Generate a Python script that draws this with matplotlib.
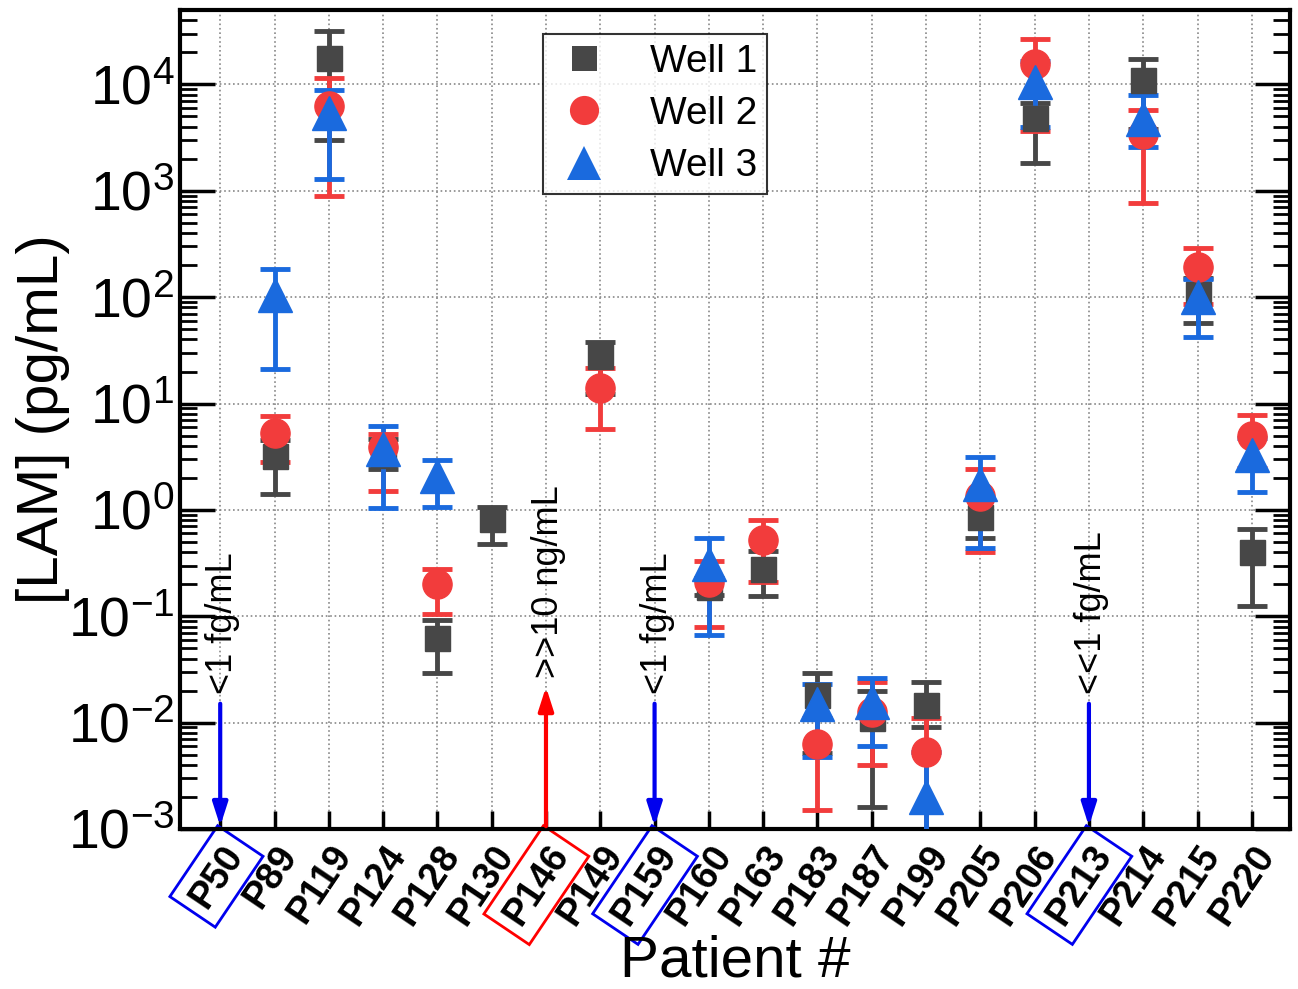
import numpy as np
import matplotlib
matplotlib.use("Agg")
import matplotlib.pyplot as plt
from matplotlib.lines import Line2D

plt.rcParams['font.family'] = ['Liberation Sans', 'DejaVu Sans']
plt.rcParams['axes.unicode_minus'] = False

nan = np.nan

# Pacientes
patients = ['P50', 'P89', 'P119', 'P124', 'P128', 'P130', 'P146', 'P149', 'P159', 'P160',
            'P163', 'P183', 'P187', 'P199', 'P205', 'P206', 'P213', 'P214', 'P215', 'P220']

# Well 1: valor, limite inferior, limite superior (pg/mL)
w1_val = [nan, 3.2, 17900, 3.3, 0.063, 0.82, nan, 28, nan, 0.19,
          0.28, 0.018, 0.011, 0.0145, 0.85, 4800, nan, 11000, 107, 0.40]
w1_lo = [nan, 1.4, 3000, 2.4, 0.029, 0.48, nan, 12.4, nan, 0.16,
         0.155, 0.0052, 0.0016, 0.009, 0.55, 1820, nan, 3800, 57, 0.126]
w1_hi = [nan, 4.5, 32000, 4.6, 0.092, 1.07, nan, 38, nan, 0.23,
         0.41, 0.029, 0.020, 0.024, 1.27, 6700, nan, 17400, 150, 0.66]

# Well 2
w2_val = [nan, 5.3, 6300, 3.9, 0.20, nan, nan, 14, nan, 0.21,
          0.52, 0.0063, 0.0125, 0.0053, 1.35, 15500, nan, 3400, 191, 4.9]
w2_lo = [nan, 2.8, 890, 1.5, 0.106, nan, nan, 5.7, nan, 0.079,
         0.21, 0.0015, 0.004, 0.0008, 0.40, 3640, nan, 760, 86, 2.5]
w2_hi = [nan, 7.6, 11400, 5.2, 0.28, nan, nan, 21.5, nan, 0.33,
         0.80, 0.011, 0.024, 0.011, 2.4, 26500, nan, 5700, 288, 7.8]

# Well 3
w3_val = [nan, 105, 5400, 3.7, 2.1, nan, nan, nan, nan, 0.31,
          nan, 0.015, 0.0155, 0.002, 1.75, 10500, nan, 4700, 100, 3.3]
w3_lo = [nan, 21, 1300, 1.05, 1.07, nan, nan, nan, nan, 0.066,
         nan, 0.0048, 0.006, 0.0005, 0.44, 3950, nan, 2600, 42, 1.48]
w3_hi = [nan, 183, 8800, 6.1, 2.95, nan, nan, nan, nan, 0.55,
         nan, 0.023, 0.026, 0.0053, 3.16, 16700, nan, 7900, 147, 4.7]

# Pacientes fuera de rango
low_patients = ['P50', 'P159', 'P213']
low_texts = ['<1 fg/mL', '<1 fg/mL', '<<1 fg/mL']
high_patients = ['P146']
high_texts = ['>>10 ng/mL']

gray = '#474747'
red = '#f23c3c'
blue = '#1a6ade'

x = np.arange(len(patients))

fig = plt.figure(figsize=(12.98, 9.89), dpi=100)
ax = fig.add_axes([0.1387, 0.1618, 0.855, 0.828])

series = [(w1_val, w1_lo, w1_hi, gray, 's', 18, 'Well 1'),
          (w2_val, w2_lo, w2_hi, red, 'o', 21, 'Well 2'),
          (w3_val, w3_lo, w3_hi, blue, '^', 24, 'Well 3')]

handles = []
for val, lo, hi, c, m, ms, lab in series:
    val = np.array(val)
    err = np.array([val - np.array(lo), np.array(hi) - val])
    ax.errorbar(x, val, yerr=err, fmt=m, color=c, mec=c, ms=ms,
                elinewidth=3.5, capsize=11, capthick=3.5, zorder=3)
    handles.append(Line2D([], [], ls='none', marker=m, color=c, ms=ms, mew=0, label=lab))

ax.set_yscale('log')
ax.set_ylim(1e-3, 5e4)
ax.set_xlim(-0.74, 19.7)

# Flechas
for p, t in zip(low_patients, low_texts):
    i = patients.index(p)
    ax.annotate('', xy=(i, 1e-3), xytext=(i, 0.016),
                arrowprops=dict(arrowstyle='-|>,head_length=1.4,head_width=0.45', color='#0000ee', lw=3),
                zorder=4)
    ax.text(i + 0.05, 0.0185, t, rotation=90, ha='center', va='bottom', fontsize=26)
for p, t in zip(high_patients, high_texts):
    i = patients.index(p)
    ax.annotate('', xy=(i, 0.023), xytext=(i, 1e-3),
                arrowprops=dict(arrowstyle='-|>,head_length=1.4,head_width=0.45', color='#ff0000', lw=3),
                zorder=4)
    ax.text(i + 0.05, 0.026, t, rotation=90, ha='center', va='bottom', fontsize=26)

ax.set_xticks(x)
ax.set_xticklabels(patients, rotation=56, ha='right', va='top', rotation_mode='anchor',
                   fontsize=27, fontweight='bold')
for lbl in ax.get_xticklabels():
    if lbl.get_text() in low_patients:
        lbl.set_bbox(dict(boxstyle='square,pad=0.25', fc='none', ec='#0000ee', lw=2))
    if lbl.get_text() in high_patients:
        lbl.set_bbox(dict(boxstyle='square,pad=0.25', fc='none', ec='#ff0000', lw=2))

ax.set_yticks([1e-3, 1e-2, 1e-1, 1, 10, 100, 1e3, 1e4])
ax.tick_params(axis='y', which='major', direction='in', length=25, width=2.5,
               labelsize=40, right=True, pad=4)
ax.tick_params(axis='y', which='minor', direction='in', length=12, width=2, right=True)
ax.tick_params(axis='x', which='major', direction='in', length=13, width=2.5, pad=7)
for s in ax.spines.values():
    s.set_linewidth(3)

ax.grid(True, which='major', ls=':', color='#888888', lw=1.2)
ax.set_axisbelow(True)

ax.set_ylabel('[LAM] (pg/mL)', fontsize=42, labelpad=-2)
ax.set_xlabel('Patient #', fontsize=42, labelpad=2)

leg = ax.legend(handles=handles, loc='upper left', bbox_to_anchor=(0.327, 0.971),
                borderaxespad=0, fontsize=28, frameon=True, fancybox=False,
                edgecolor='black', handlelength=1.6, handletextpad=0.9,
                borderpad=0.25, labelspacing=0.42)
leg.get_frame().set_linewidth(1.5)

fig.savefig('out.png', dpi=100)
